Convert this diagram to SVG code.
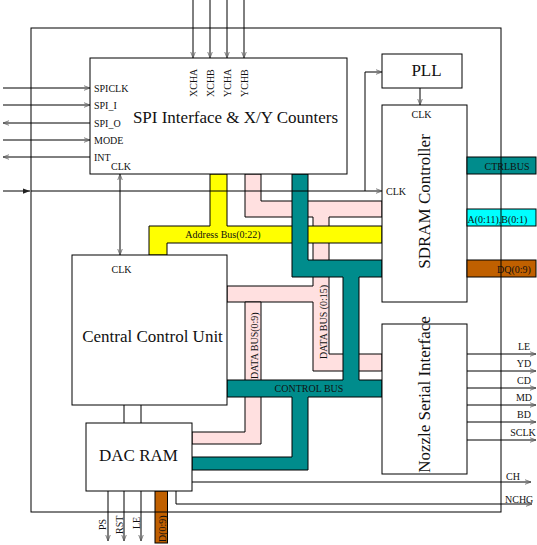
<svg xmlns="http://www.w3.org/2000/svg" width="537" height="545" viewBox="0 0 537 545">
<defs>
<style>
.box{fill:#fff;stroke:#000;stroke-width:1}
.ln{fill:none;stroke:#000;stroke-width:1}
.bus{stroke:#000;stroke-width:1}
.pink{fill:#FFE0E0}
.yel{fill:#FFFF00}
.teal{fill:#008C8C}
.cyan{fill:#00FFFF}
.brown{fill:#C06000}
.t10{font-family:"Liberation Serif",serif;font-size:10px;fill:#111}
.t17{font-family:"Liberation Serif",serif;font-size:17px;fill:#111}
</style>
<marker id="arr" viewBox="0 0 8 8" refX="8" refY="4" markerWidth="6" markerHeight="6" markerUnits="userSpaceOnUse" orient="auto-start-reverse">
<path d="M0,1 L8,4 L0,7" fill="none" stroke="#555" stroke-width="1"/>
</marker>
<marker id="arrf" viewBox="0 0 8 8" refX="8" refY="4" markerWidth="7" markerHeight="7" markerUnits="userSpaceOnUse" orient="auto">
<path d="M0,1 L8,4 L0,7 Z" fill="#222"/>
</marker>
</defs>
<rect width="537" height="545" fill="#fff"/>

<g id="connectors">
<!-- buses -->
<polygon class="bus pink" points="245,174 261,174 261,201 382,201 382,217 329,217 329,354 382,354 382,371 313,371 313,302 227,302 227,286 313,286 313,217 245,217"/>
<polygon class="bus pink" points="245,302 261,302 261,444 192,444 192,432 245,432"/>
<polygon class="bus yel" points="210,174 227,174 227,226 382,226 382,243 167,243 167,255 149,255 149,226 210,226"/>
<polygon class="bus teal" points="292,174 308,174 308,260 382,260 382,277 359,277 359,380 382,380 382,397 308,397 308,470 192,470 192,457 292,457 292,397 227,397 227,380 343,380 343,277 292,277"/>
<text class="t10" x="223" y="238" text-anchor="middle">Address Bus(0:22)</text>
<text class="t10" x="309" y="392" text-anchor="middle">CONTROL BUS</text>
<text class="t10" transform="translate(326.5,359) rotate(-90)">DATA BUS (0:15)</text>
<text class="t10" transform="translate(257.5,379) rotate(-90)">DATA BUS(0:9)</text>

<!-- left inputs -->
<line class="ln" x1="3" y1="88" x2="90" y2="88" marker-end="url(#arr)"/>
<line class="ln" x1="3" y1="105" x2="90" y2="105" marker-end="url(#arr)"/>
<line class="ln" x1="90" y1="123" x2="3" y2="123" marker-end="url(#arr)"/>
<line class="ln" x1="3" y1="140" x2="90" y2="140" marker-end="url(#arr)"/>
<line class="ln" x1="90" y1="157" x2="3" y2="157" marker-end="url(#arr)"/>
<!-- top inputs -->
<line class="ln" x1="193" y1="0" x2="193" y2="58" marker-end="url(#arr)"/>
<line class="ln" x1="210" y1="0" x2="210" y2="58" marker-end="url(#arr)"/>
<line class="ln" x1="227" y1="0" x2="227" y2="58" marker-end="url(#arr)"/>
<line class="ln" x1="244" y1="0" x2="244" y2="58" marker-end="url(#arr)"/>
<!-- clock -->
<line class="ln" x1="3" y1="191" x2="30" y2="191" marker-end="url(#arrf)"/>
<line class="ln" x1="31" y1="191" x2="382" y2="191" marker-end="url(#arr)"/>
<polyline class="ln" points="365,191 365,72 382,72" marker-end="url(#arr)"/>
<line class="ln" x1="420" y1="88" x2="420" y2="105" marker-end="url(#arr)"/>
<line class="ln" x1="120" y1="174" x2="120" y2="255" marker-start="url(#arr)" marker-end="url(#arr)"/>
<!-- CCU to DAC -->
<line class="ln" x1="124" y1="405" x2="124" y2="423"/>
<line class="ln" x1="141" y1="405" x2="141" y2="423"/>
<!-- nozzle outputs -->
<line class="ln" x1="467" y1="354" x2="536" y2="354" marker-end="url(#arr)"/>
<line class="ln" x1="467" y1="371" x2="536" y2="371" marker-end="url(#arr)"/>
<line class="ln" x1="467" y1="388" x2="536" y2="388" marker-end="url(#arr)"/>
<line class="ln" x1="467" y1="405" x2="536" y2="405" marker-end="url(#arr)"/>
<line class="ln" x1="467" y1="422" x2="536" y2="422" marker-end="url(#arr)"/>
<line class="ln" x1="467" y1="440" x2="536" y2="440" marker-end="url(#arr)"/>
<!-- DAC outputs -->
<line class="ln" x1="192" y1="482" x2="531" y2="482" marker-end="url(#arr)"/>
<polyline class="ln" points="176,491 176,504 532,504" marker-end="url(#arr)"/>
<line class="ln" x1="108" y1="491" x2="108" y2="541" marker-end="url(#arr)"/>
<line class="ln" x1="124" y1="491" x2="124" y2="541" marker-end="url(#arr)"/>
<line class="ln" x1="141" y1="491" x2="141" y2="541" marker-end="url(#arr)"/>
<rect class="bus brown" x="155" y="491" width="12.5" height="52"/>
<text class="t10" transform="translate(166,542) rotate(-90)">D(0:9)</text>
</g>

<g id="spi">
<rect class="box" x="90" y="58" width="257" height="116"/>
<text class="t17" x="235.5" y="123" text-anchor="middle">SPI Interface &amp; X/Y Counters</text>
<text class="t10" x="94" y="92">SPICLK</text>
<text class="t10" x="94" y="109">SPI_I</text>
<text class="t10" x="94" y="127">SPI_O</text>
<text class="t10" x="94" y="144">MODE</text>
<text class="t10" x="94" y="161">INT</text>
<text class="t10" x="111" y="170">CLK</text>
<text class="t10" transform="translate(196.5,97) rotate(-90)">XCHA</text>
<text class="t10" transform="translate(213.5,97) rotate(-90)">XCHB</text>
<text class="t10" transform="translate(230.5,97) rotate(-90)">YCHA</text>
<text class="t10" transform="translate(247.5,97) rotate(-90)">YCHB</text>
</g>

<g id="pll">
<rect class="box" x="382" y="54" width="80" height="34"/>
<text class="t17" x="426.5" y="76" text-anchor="middle">PLL</text>
</g>

<g id="sdram">
<rect class="box" x="382" y="105" width="85" height="197"/>
<text class="t10" x="411.5" y="118">CLK</text>
<text class="t10" x="386" y="195">CLK</text>
<text class="t17" transform="translate(430,201.5) rotate(-90)" text-anchor="middle">SDRAM Controller</text>
</g>

<g id="ports">
<rect class="bus teal" x="467" y="157" width="69" height="17"/>
<text class="t10" x="507" y="170" text-anchor="middle">CTRLBUS</text>
<rect class="bus cyan" x="467" y="209" width="69" height="17"/>
<text class="t10" x="467.5" y="222.5">A(0:11),B(0:1)</text>
<rect class="bus brown" x="467" y="260" width="69" height="17"/>
<text class="t10" x="497" y="272.5">DQ(0:9)</text>
</g>

<g id="nozzle">
<rect class="box" x="382" y="324" width="85" height="150"/>
<text class="t17" transform="translate(430,394.5) rotate(-90)" text-anchor="middle">Nozzle Serial Interface</text>
<text class="t10" x="524" y="350" text-anchor="middle">LE</text>
<text class="t10" x="524" y="367" text-anchor="middle">YD</text>
<text class="t10" x="524" y="384" text-anchor="middle">CD</text>
<text class="t10" x="524" y="401" text-anchor="middle">MD</text>
<text class="t10" x="524" y="418" text-anchor="middle">BD</text>
<text class="t10" x="523" y="436" text-anchor="middle">SCLK</text>
</g>

<g id="ccu">
<rect class="box" x="72" y="255" width="155" height="150"/>
<text class="t10" x="111.5" y="272.5">CLK</text>
<text class="t17" x="152.5" y="341.5" text-anchor="middle">Central Control Unit</text>
</g>

<g id="dacram">
<rect class="box" x="86" y="423" width="106" height="68"/>
<text class="t17" x="138.5" y="461" text-anchor="middle">DAC RAM</text>
<text class="t10" x="506" y="480">CH</text>
<text class="t10" x="505" y="502.5">NCHG</text>
<text class="t10" transform="translate(106,530) rotate(-90)">PS</text>
<text class="t10" transform="translate(123,534) rotate(-90)">RST</text>
<text class="t10" transform="translate(140,529) rotate(-90)">LE</text>
</g>

<g id="frame">
<rect x="31" y="28" width="470" height="484" fill="none" stroke="#000" stroke-width="1"/>
</g>
</svg>
